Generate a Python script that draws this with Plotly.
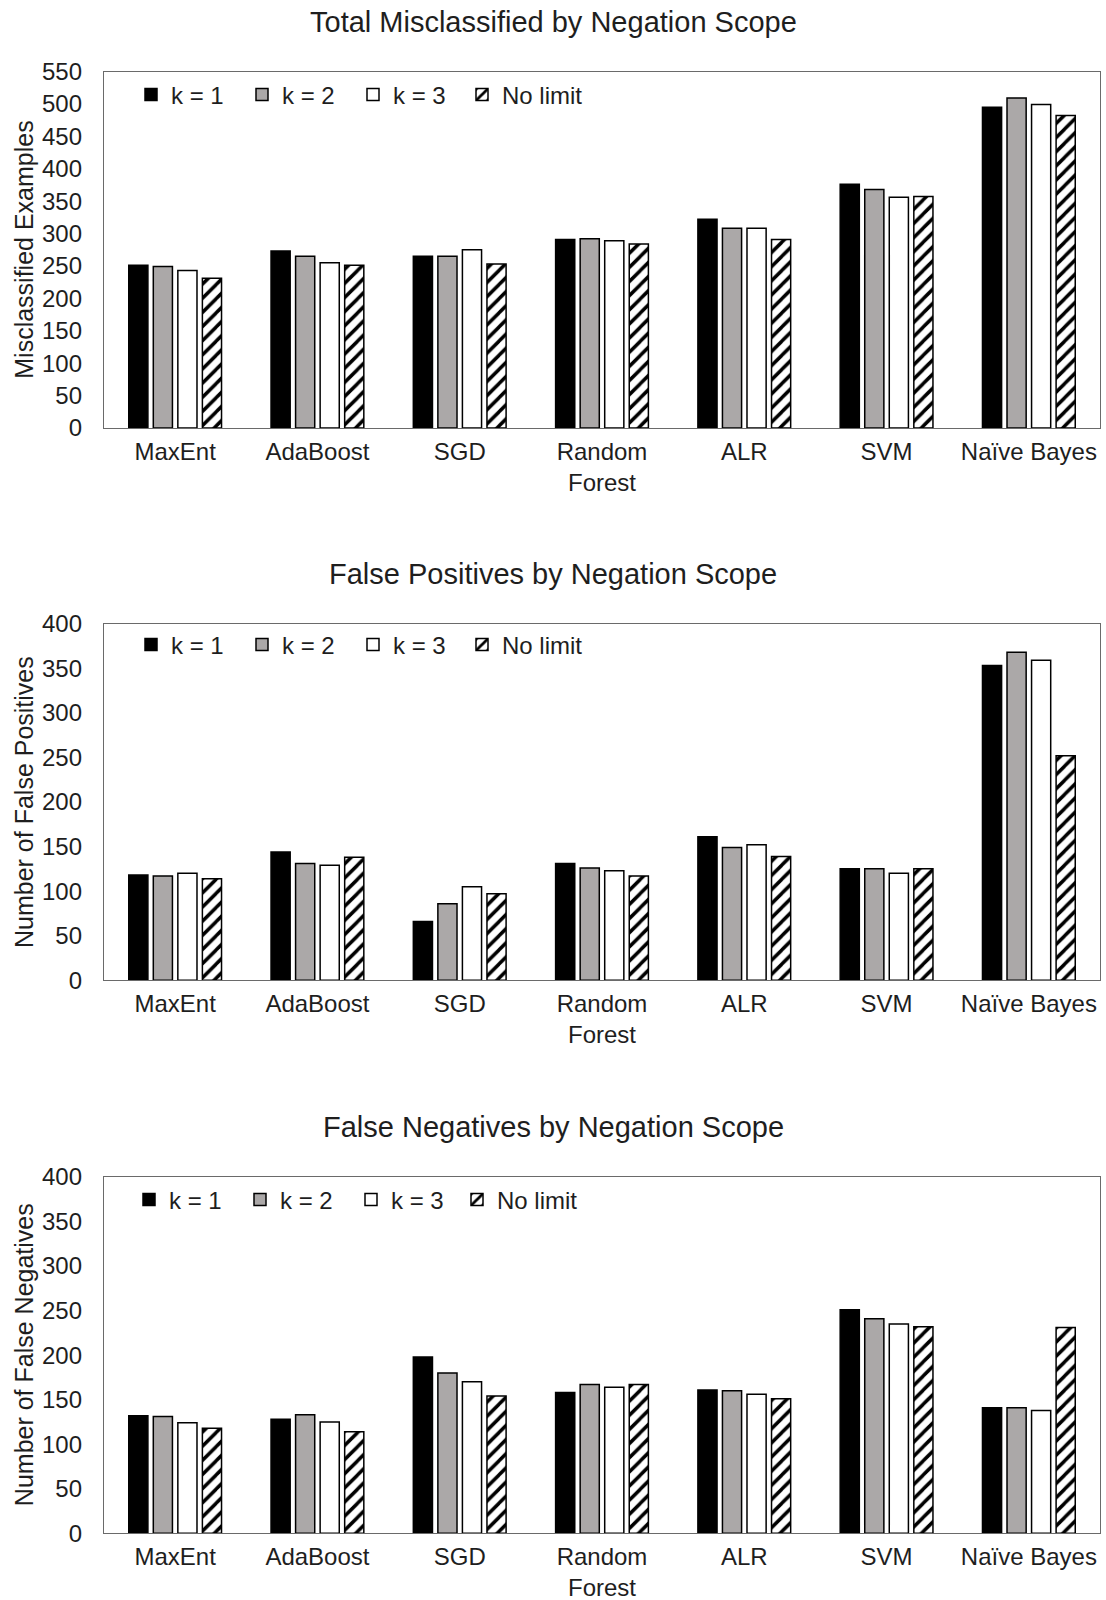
import plotly.graph_objects as go

# ---------------- data ----------------
categories = ["MaxEnt", "AdaBoost", "SGD", "Random<br>Forest", "ALR", "SVM", "Naïve Bayes"]
series_names = ["k = 1", "k = 2", "k = 3", "No limit"]

total_k1 = [251, 273, 265, 291, 322, 376, 495]
total_k2 = [249, 265, 265, 292, 308, 368, 509]
total_k3 = [243, 255, 275, 289, 308, 356, 499]
total_nl = [231, 251, 253, 284, 291, 357, 482]

fp_k1 = [118, 144, 66, 131, 161, 125, 353]
fp_k2 = [117, 131, 86, 126, 149, 125, 368]
fp_k3 = [120, 129, 105, 123, 152, 120, 359]
fp_nl = [114, 138, 97, 117, 139, 125, 252]

fn_k1 = [132, 128, 198, 158, 161, 251, 141]
fn_k2 = [131, 133, 180, 167, 160, 241, 141]
fn_k3 = [124, 125, 170, 164, 156, 235, 138]
fn_nl = [118, 114, 154, 167, 151, 232, 231]

chart_titles = ["Total Misclassified by Negation Scope",
                "False Positives by Negation Scope",
                "False Negatives by Negation Scope"]
y_titles = ["Misclassified Examples", "Number of False Positives", "Number of False Negatives"]
y_max = [550, 400, 400]

# ---------------- styling ----------------
W, H = 1106, 1600
FONT = "Liberation Sans, Arial, sans-serif"
TXT = "#1e1e1e"
FRAME = "#6a6a6a"
fills = ["#000000", "#ABA8A8", "#FFFFFF", "#FFFFFF"]

def px_x(p):
    return p / W

def px_y(p):
    return 1 - p / H

x_dom = [px_x(104), px_x(1100)]
frames = [(71.5, 428.0), (623.7, 980.3), (1177.0, 1533.3)]
title_y = [22.5, 573.5, 1126.5]
legend_y = [95, 645, 1200]
legend_x_a = [131, 131, 129]   # k = 1..3 entries
legend_x_b = [462, 462, 457]   # "No limit" entry

datasets = [
    [total_k1, total_k2, total_k3, total_nl],
    [fp_k1, fp_k2, fp_k3, fp_nl],
    [fn_k1, fn_k2, fn_k3, fn_nl],
]

def legend_name(n):
    return "legend" if n == 1 else "legend%d" % n

fig = go.Figure()
annotations = []
layout_upd = {}

for i, (data, (top, bot)) in enumerate(zip(datasets, frames)):
    sfx = "" if i == 0 else str(i + 1)
    leg_a = legend_name(2 * i + 1)
    leg_b = legend_name(2 * i + 2)
    for j, (name, vals) in enumerate(zip(series_names, data)):
        marker = dict(color=fills[j], line=dict(color="#000000", width=1.5))
        if j == 3:
            marker["pattern"] = dict(shape="/", size=10, solidity=0.35,
                                     fgcolor="#000000", bgcolor="#FFFFFF",
                                     fillmode="replace")
        fig.add_trace(go.Bar(
            x=categories, y=vals, name=name, marker=marker,
            xaxis="x" + sfx, yaxis="y" + sfx,
            legend=leg_b if j == 3 else leg_a,
        ))
    layout_upd["xaxis" + sfx] = dict(
        domain=x_dom, anchor="y" + sfx, showline=True, mirror=True,
        linecolor=FRAME, linewidth=1.3, showgrid=False, zeroline=False,
        ticks="", tickfont=dict(family=FONT, size=24, color=TXT),
        ticklabelstandoff=2, automargin=False, fixedrange=True,
    )
    layout_upd["yaxis" + sfx] = dict(
        domain=[px_y(bot), px_y(top)], anchor="x" + sfx, range=[0, y_max[i]],
        dtick=50, showline=True, mirror=True, linecolor=FRAME, linewidth=1.3,
        showgrid=False, zeroline=False, ticks="", automargin=False,
        tickfont=dict(family=FONT, size=24, color=TXT), ticklabelstandoff=16,
    )
    for leg, lx, ew in ((leg_a, legend_x_a[i], 66), (leg_b, legend_x_b[i], 100)):
        layout_upd[leg] = dict(
            orientation="h", x=px_x(lx), xanchor="left", y=px_y(legend_y[i]),
            yanchor="middle", bgcolor="rgba(0,0,0,0)", borderwidth=0,
            font=dict(family=FONT, size=24, color=TXT), entrywidth=ew,
            entrywidthmode="pixels", itemwidth=30, traceorder="normal",
        )
    annotations.append(dict(
        text=chart_titles[i], xref="paper", yref="paper", x=0.5,
        y=px_y(title_y[i]), xanchor="center", yanchor="middle", showarrow=False,
        font=dict(family=FONT, size=29, color=TXT),
    ))
    annotations.append(dict(
        text=y_titles[i], xref="paper", yref="paper", x=px_x(24),
        y=px_y((top + bot) / 2), xanchor="center", yanchor="middle",
        textangle=-90, showarrow=False,
        font=dict(family=FONT, size=25, color=TXT),
    ))

fig.update_layout(
    width=W, height=H, autosize=False,
    margin=dict(l=0, r=0, t=0, b=0),
    paper_bgcolor="white", plot_bgcolor="white",
    barmode="group", bargap=0.31, bargroupgap=0.22,
    showlegend=True, annotations=annotations,
    font=dict(family=FONT, color=TXT),
    **layout_upd,
)

fig.write_html("out.html")
